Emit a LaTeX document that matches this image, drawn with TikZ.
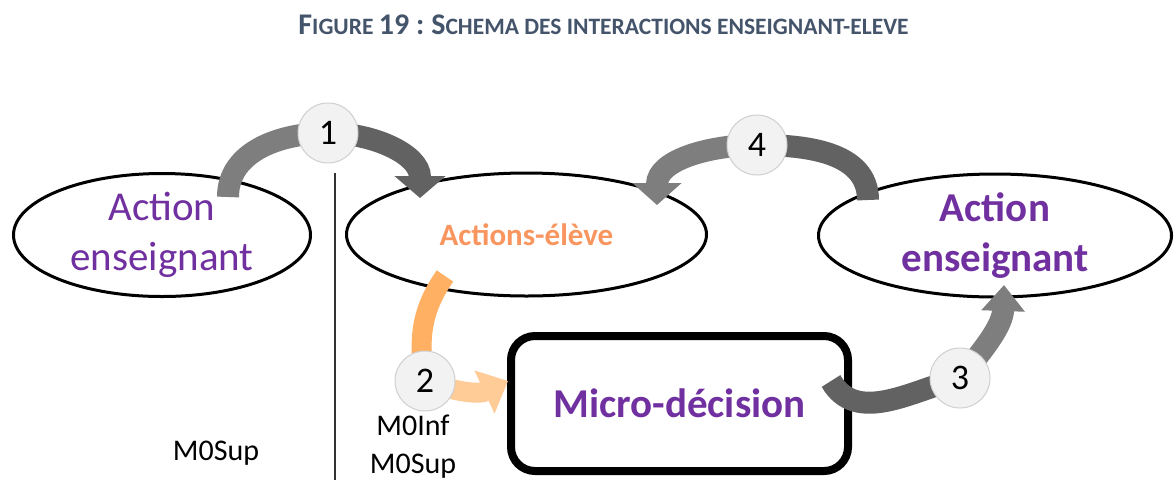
\documentclass[tikz,border=0pt]{standalone}
\usepackage{fontspec}
\setmainfont{Carlito}
\usetikzlibrary{arrows.meta,shapes.geometric}
\definecolor{purp}{HTML}{7030A0}
\definecolor{orgtext}{HTML}{F9955E}
\definecolor{org1}{HTML}{FFB062}
\definecolor{org2}{HTML}{FFCB96}
\definecolor{gdark}{HTML}{626262}
\definecolor{glight}{HTML}{7E7E7E}
\definecolor{titlec}{HTML}{44546A}
\definecolor{circfill}{HTML}{F2F2F2}
\definecolor{circline}{HTML}{CFCFCF}
\newcommand\titlebig[1]{{\fontsize{30}{30}\selectfont #1}}
\tikzset{
  ell/.style={ellipse, draw=black, line width=3pt, minimum height=123pt, inner sep=0pt, align=center},
  numc/.style={circle, fill=circfill, draw=circline, line width=1pt, minimum size=60pt, inner sep=0pt, font=\fontsize{36}{36}\selectfont},
  band/.style={line width=22pt},
  lab/.style={inner sep=0pt, align=center, font=\fontsize{30}{38}\selectfont}
}
\begin{document}
\begin{tikzpicture}[x=1pt,y=1pt]
\useasboundingbox (0,0) rectangle (1174,-480);
\fill[white] (0,0) rectangle (1174,-480);
% title
\node[inner sep=0pt, anchor=base, text=titlec, font=\fontsize{23.5}{24}\selectfont\bfseries] (title) at (603.5,-34)
  {\titlebig{F}IGURE \titlebig{19 :} \titlebig{S}CHEMA DES INTERACTIONS ENSEIGNANT-ELEVE};
% ellipses
\node[ell, minimum width=297pt, text=purp, font=\fontsize{41}{50}\selectfont] (L) at (162,-235) {Action\\enseignant};
\node[ell, minimum width=360pt, text=orgtext, font=\fontsize{31}{36}\selectfont\bfseries] (M) at (526.5,-234.5) {Actions-élève};
\node[ell, minimum width=353pt, text=purp, font=\fontsize{41}{50}\selectfont\bfseries] (R) at (995,-235.5) {Action\\enseignant};
% box
\node[draw=black, line width=8pt, rounded corners=24pt, minimum width=337pt, minimum height=135pt, text=purp, font=\fontsize{41}{50}\selectfont\bfseries] (D) at (679.5,-403.5) {Micro-décision};
% separator
\coordinate (vtop) at (335,-173);
\coordinate (vbot) at (335,-480);
\draw[line width=1.5pt, black!80] (vtop) -- (vbot);
% number circles positions
\coordinate (p1) at (328,-133);
\coordinate (p2) at (425,-381);
\coordinate (p3) at (960,-378);
\coordinate (p4) at (757,-145);
% arrow ends
\coordinate (t1) at (228,-197);
\coordinate (h1) at (420,-198);
\coordinate (t4) at (868,-200);
\coordinate (h4) at (657,-205);
\coordinate (t3) at (831,-381);
\coordinate (h3) at (1004,-285);
\coordinate (t2) at (445,-276);
\coordinate (h2) at (508,-381);
% arrows
\draw[band, glight] (t1) to[out=90,in=180] (p1);
\draw[band, gdark, -{Triangle[width=50pt,length=22pt]}] (p1) to[out=0,in=90] (h1);
\draw[band, gdark] (t4) to[out=90,in=0] (p4);
\draw[band, glight, -{Triangle[width=48pt,length=22pt]}] (p4) to[out=180,in=90] (h4);
\draw[band, gdark] (t3) to[out=-60,in=195] (p3);
\draw[band, glight, -{Triangle[width=42pt,length=26pt]}] (p3) to[out=50,in=-92] (h3);
\draw[band, org1, line width=20pt] (t2) to[out=235,in=100] (p2);
\draw[band, org2, line width=20pt, -{Triangle[width=46pt,length=26pt]}] (p2) to[out=-20,in=205] (h2);
% number circles
\node[numc] (n1) at (p1) {1};
\node[numc] (n2) at (p2) {2};
\node[numc] (n3) at (p3) {3};
\node[numc] (n4) at (p4) {4};
% labels
\node[lab] (ms1) at (216,-453) {M0Sup};
\node[lab] (ms2) at (413,-447) {M0Inf\\M0Sup};
\end{tikzpicture}
\end{document}
